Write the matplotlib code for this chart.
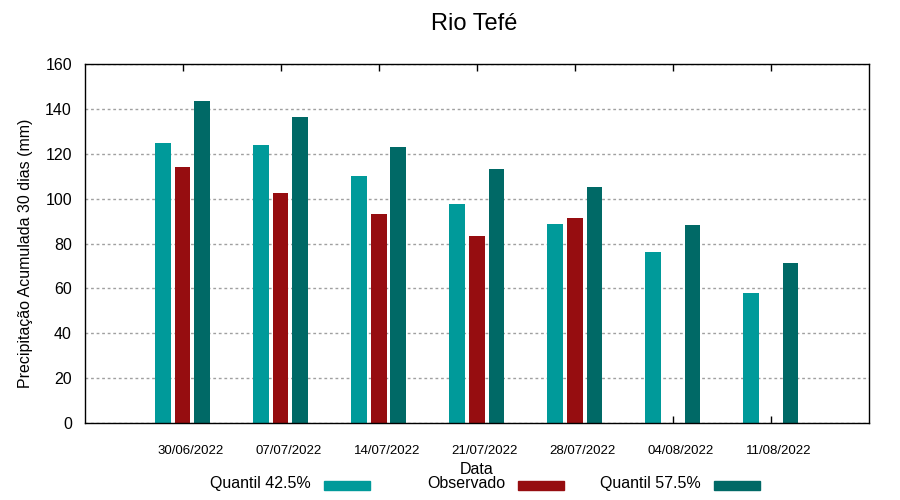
import numpy as np
import matplotlib
matplotlib.use('Agg')
import matplotlib.pyplot as plt
import matplotlib.transforms as mtransforms
from matplotlib.patches import Rectangle

plt.rcParams['font.family'] = ['Liberation Sans', 'DejaVu Sans']

# dados
datas = ['30/06/2022', '07/07/2022', '14/07/2022', '21/07/2022',
         '28/07/2022', '04/08/2022', '11/08/2022']
q425 = [124.6, 123.7, 110.3, 97.8, 88.8, 76.3, 58.0]
observado = [113.9, 102.7, 93.3, 83.5, 91.5, np.nan, np.nan]
q575 = [143.4, 136.2, 122.8, 113.4, 105.0, 88.4, 71.4]

series = [('Quantil 42.5%', q425, '#009a9a'),
          ('Observado', observado, '#960d10'),
          ('Quantil 57.5%', q575, '#006966')]

fig = plt.figure(figsize=(9, 5), dpi=100)
ax = fig.add_axes([84.5/900, 77/500, 784.5/900, 359/500])

x = np.arange(len(datas))
largura = 0.16
desloc = [-0.2, 0.0, 0.2]
for (nome, vals, cor), d in zip(series, desloc):
    ax.bar(x + d, vals, largura, color=cor, zorder=3)

ax.set_xlim(-1, 7)
ax.set_ylim(0, 160)
ax.set_yticks(np.arange(0, 161, 20))
ax.set_xticks(x)
ax.set_xticklabels(datas, fontsize=9.5)
ax.tick_params(axis='x', direction='in', length=5, width=1, top=True,
               pad=16, colors='black')
ax.tick_params(axis='y', length=0, pad=9, labelsize=11.5)
for lab in ax.get_xticklabels():
    lab.set_transform(lab.get_transform() +
                      mtransforms.ScaledTranslation(8/100, 0, fig.dpi_scale_trans))
ax.grid(axis='y', color='#a0a0a0', linestyle=(0, (2, 2)), linewidth=1, zorder=1)
for s in ax.spines.values():
    s.set_linewidth(1)
    s.set_zorder(4)

ax.set_ylabel('Precipitação Acumulada 30 dias (mm)', fontsize=11.5)
ax.yaxis.set_label_coords(-0.066, 0.474)
ax.set_xlabel('Data', fontsize=11.5)
ax.xaxis.set_label_coords(0.5, -0.108)

fig.text(474.5/900, 1 - 24/500, 'Rio Tefé', fontsize=17, ha='center', va='center')

# legenda no estilo do gnuplot
fim_texto = [311, 505, 701]
for (nome, vals, cor), xt in zip(series, fim_texto):
    fig.text(xt/900, 1 - 488/500, nome, fontsize=11.5, ha='right', va='baseline')
    fig.patches.append(Rectangle(((xt + 13)/900, 1 - 490/500), 46/900, 9/500,
                                 transform=fig.transFigure, color=cor))

fig.savefig('out.png', dpi=100)
